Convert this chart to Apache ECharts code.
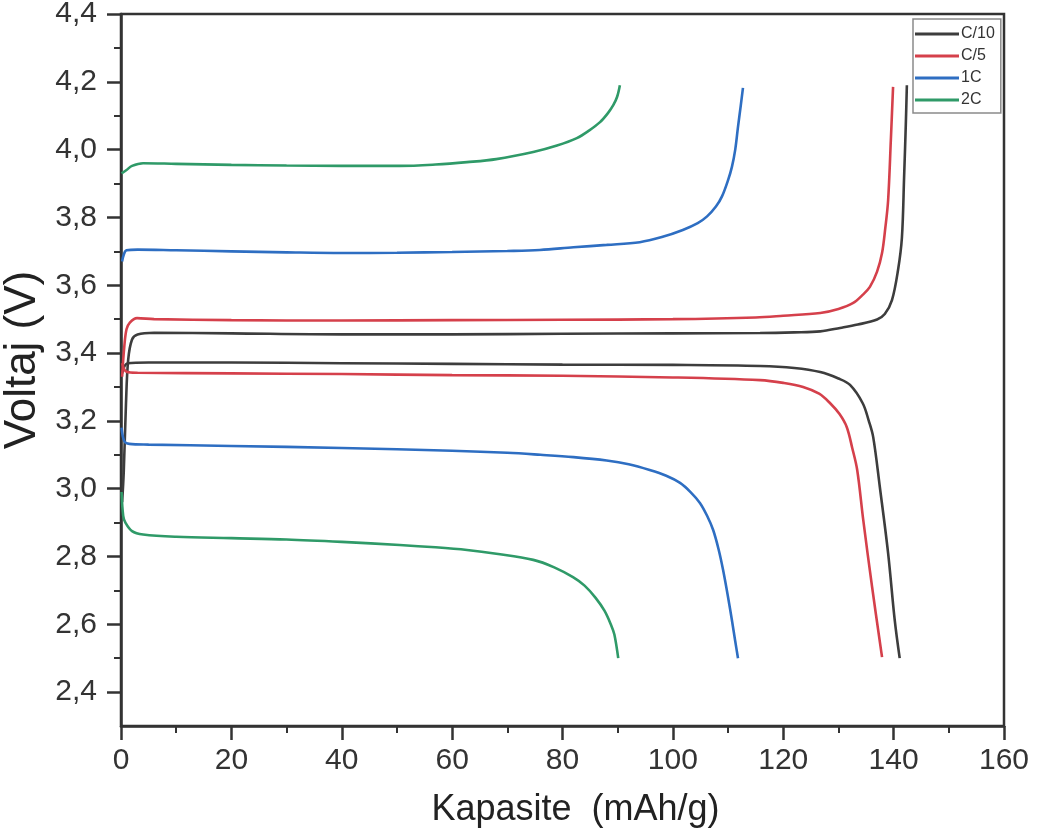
<!DOCTYPE html>
<html>
<head>
<meta charset="utf-8">
<script src="https://cdn.jsdelivr.net/npm/echarts@6/dist/echarts.min.js"></script>
<style>
html,body{margin:0;padding:0;background:#fff;}
#chart{width:1041px;height:840px;}
</style>
</head>
<body>
<div id="chart"></div>
<script>
// ---- Data (x: Kapasite mAh/g, y: Voltaj V) ----
const seriesNames = ['C/10', 'C/5', '1C', '2C'];
const seriesColors = ['#3d3d3d', '#d5404b', '#2e6ec2', '#2f9a68'];

const c10Charge = [[0.2,2.96],[0.5,3.05],[0.9,3.25],[1.3,3.38],[2.0,3.44],[3,3.455],[6,3.46],[20,3.458],[40,3.455],[60,3.455],[80,3.457],[100,3.458],[115.8,3.459],[122,3.461],[126.7,3.464],[130.3,3.474],[133.5,3.484],[137,3.499],[138.4,3.515],[139.7,3.556],[140.8,3.645],[141.5,3.74],[141.9,3.92],[142.2,4.07],[142.4,4.19]];
const c10Discharge = [[0.2,3.34],[1.2,3.37],[5,3.372],[20,3.372],[40,3.37],[60,3.368],[80,3.366],[100,3.365],[115.8,3.362],[122,3.356],[126.7,3.344],[130,3.325],[132.1,3.306],[134.4,3.252],[135.5,3.2],[136.3,3.152],[137.5,3.005],[139,2.81],[140.2,2.612],[141.1,2.50]];

const c5Charge = [[0.2,3.33],[0.6,3.42],[1.0,3.47],[1.6,3.49],[2.9,3.503],[6,3.5],[20,3.497],[40,3.496],[60,3.497],[80,3.498],[100,3.5],[115,3.505],[120,3.51],[126.7,3.518],[130,3.53],[132.6,3.547],[134.3,3.57],[135.7,3.595],[137,3.64],[137.9,3.695],[138.5,3.77],[139,3.85],[139.5,4.03],[139.9,4.185]];
const c5Discharge = [[0.2,3.37],[1,3.345],[3,3.342],[20,3.34],[40,3.338],[60,3.335],[80,3.333],[100,3.328],[115.8,3.32],[120,3.312],[123.6,3.30],[126.5,3.28],[128.5,3.252],[130.2,3.22],[131.5,3.182],[132.5,3.12],[133.4,3.055],[134.5,2.907],[136.1,2.71],[137.9,2.503]];

const c1Charge = [[0.2,3.67],[0.5,3.69],[1.0,3.703],[3,3.705],[10,3.703],[20,3.70],[30,3.697],[40,3.695],[50,3.696],[60,3.698],[70,3.701],[75.9,3.704],[82,3.712],[88,3.719],[94,3.727],[98,3.742],[101.8,3.763],[104.5,3.783],[106.2,3.803],[107.8,3.832],[108.9,3.862],[110,3.91],[110.7,3.949],[111.3,4.0],[111.8,4.067],[112.3,4.13],[112.7,4.182]];
const c1Discharge = [[0.1,3.18],[0.6,3.14],[1.5,3.132],[5,3.13],[20,3.126],[40,3.12],[60,3.112],[70,3.106],[76,3.1],[82,3.093],[88,3.083],[92,3.072],[95.8,3.055],[98.8,3.038],[101.3,3.017],[103.2,2.99],[104.9,2.958],[106.2,2.92],[107.3,2.878],[108.3,2.82],[109.1,2.76],[110,2.68],[110.7,2.612],[111.3,2.55],[111.8,2.50]];

const c2Charge = [[0.1,3.93],[1,3.94],[2,3.952],[4,3.96],[10,3.958],[20,3.955],[30,3.953],[40,3.952],[50.5,3.952],[57,3.956],[62.7,3.963],[68,3.972],[74.7,3.993],[79,4.012],[82.6,4.034],[84.8,4.056],[86.8,4.081],[88.2,4.107],[89.2,4.131],[89.9,4.156],[90.4,4.19]];
const c2Discharge = [[0.1,2.99],[0.4,2.92],[0.8,2.9],[2,2.875],[4,2.865],[10,2.858],[20,2.854],[30,2.85],[40,2.843],[50.5,2.834],[57,2.827],[62.7,2.819],[68,2.808],[74.7,2.79],[78.5,2.768],[81.9,2.739],[84.0,2.714],[86.0,2.678],[87.6,2.64],[88.8,2.598],[89.4,2.57],[90.1,2.50]];

const yMajorTicks = [2.4,2.6,2.8,3.0,3.2,3.4,3.6,3.8,4.0,4.2,4.4];
const yMinorTicks = [2.5,2.7,2.9,3.1,3.3,3.5,3.7,3.9,4.1,4.3];
const xTitle = 'Kapasite  (mAh/g)';
const yTitle = 'Voltaj (V)';

// ---- Chart ----
const curves = [
  [c10Charge, c10Discharge],
  [c5Charge, c5Discharge],
  [c1Charge, c1Discharge],
  [c2Charge, c2Discharge]
];
const series = [];
curves.forEach((pair, i) => {
  pair.forEach(d => {
    series.push({
      name: seriesNames[i],
      type: 'line',
      data: d,
      showSymbol: false,
      symbol: 'none',
      smooth: 0.35,
      xAxisIndex: 0,
      yAxisIndex: 0,
      lineStyle: { color: seriesColors[i], width: 2.6 },
      itemStyle: { color: seriesColors[i] },
      animation: false
    });
  });
});

const axisColor = '#333';
const labelFont = 'Liberation Sans, Arial, sans-serif';
const chart = echarts.init(document.getElementById('chart'));
chart.setOption({
  backgroundColor: '#fff',
  animation: false,
  grid: { left: 121, right: 37, top: 14, bottom: 114, show: true, borderColor: axisColor, borderWidth: 2.5,
    containLabel: false, outerBoundsMode: 'none' },
  legend: {
    data: seriesNames,
    orient: 'vertical',
    left: 913,
    top: 19,
    padding: [7, 6, 5, 2],
    itemGap: 6,
    itemWidth: 44,
    itemHeight: 3,
    icon: 'rect',
    borderColor: '#8a8a8a',
    borderWidth: 1.5,
    textStyle: { fontSize: 16, color: '#333', fontFamily: labelFont, padding: [0, 0, 0, -3], lineHeight: 16 }
  },
  xAxis: {
    type: 'value',
    min: 0, max: 160, interval: 20,
    name: xTitle,
    nameLocation: 'middle',
    nameGap: 66,
    nameTextStyle: { fontSize: 36, color: '#222', fontFamily: labelFont, padding: [0, 0, 0, 26] },
    axisLine: { show: true, lineStyle: { color: axisColor, width: 2.5 } },
    axisTick: { show: true, inside: false, length: 14, lineStyle: { color: axisColor, width: 2.5 } },
    minorTick: { show: true, splitNumber: 2, length: 7, lineStyle: { color: axisColor, width: 2 } },
    axisLabel: { fontSize: 30, color: '#333', margin: 20, fontFamily: labelFont },
    splitLine: { show: false }
  },
  yAxis: [
    {
      type: 'value',
      min: 2.3, max: 4.4,
      name: yTitle,
      nameLocation: 'middle',
      nameGap: 72,
      nameTextStyle: { fontSize: 44, color: '#222', fontFamily: labelFont, padding: [0, 0, 0, 20] },
      axisLine: { show: true, lineStyle: { color: axisColor, width: 2.5 } },
      axisTick: { show: true, inside: false, length: 14, customValues: yMajorTicks, lineStyle: { color: axisColor, width: 2.5 } },
      axisLabel: { fontSize: 30, color: '#333', margin: 24, fontFamily: labelFont, customValues: yMajorTicks,
        formatter: v => v.toFixed(1).replace('.', ',') },
      splitLine: { show: false }
    },
    {
      type: 'value',
      min: 2.3, max: 4.4,
      position: 'left',
      axisLine: { show: false },
      axisTick: { show: true, inside: false, length: 7, customValues: yMinorTicks, lineStyle: { color: axisColor, width: 2 } },
      axisLabel: { show: false, customValues: yMinorTicks },
      splitLine: { show: false }
    }
  ],
  series: series
});
</script>
</body>
</html>
